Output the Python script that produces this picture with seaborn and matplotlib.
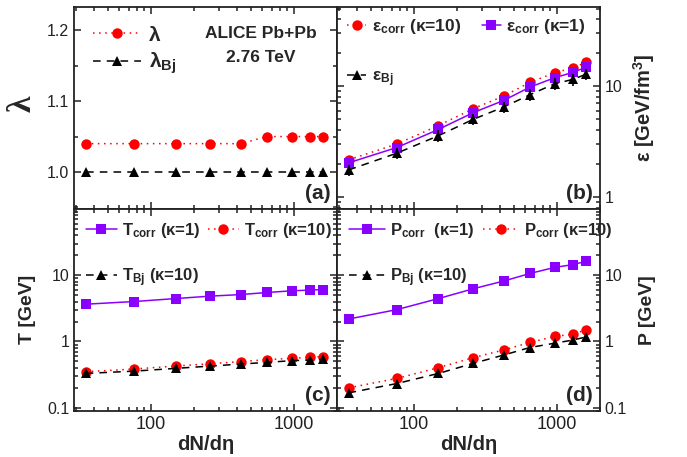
import matplotlib
matplotlib.use('Agg')
import matplotlib.pyplot as plt
import seaborn as sns
from matplotlib.ticker import MultipleLocator, NullFormatter

# centrality classes of ALICE Pb+Pb at 2.76 TeV
dndeta = [35, 76, 149, 261, 426, 649, 966, 1294, 1601]

lam = [1.04, 1.04, 1.04, 1.04, 1.04, 1.05, 1.05, 1.05, 1.05]
lam_bj = [1.0, 1.0, 1.0, 1.0, 1.0, 1.0, 1.0, 1.0, 1.0]

eps_k10 = [2.16, 3.0, 4.41, 6.27, 8.14, 10.8, 13.2, 14.6, 16.4]
eps_k1 = [2.03, 2.79, 4.07, 5.77, 7.43, 9.8, 11.9, 13.3, 14.8]
eps_bj = [1.75, 2.48, 3.57, 5.02, 6.48, 8.36, 10.5, 11.5, 12.8]

T_k1 = [3.65, 4.0, 4.44, 4.83, 5.1, 5.48, 5.81, 5.96, 6.08]
T_k10 = [0.35, 0.384, 0.426, 0.463, 0.497, 0.533, 0.557, 0.577, 0.592]
T_bj = [0.33, 0.357, 0.393, 0.426, 0.457, 0.484, 0.514, 0.525, 0.538]

P_k1 = [2.18, 3.02, 4.44, 6.24, 8.16, 10.6, 13.1, 14.4, 16.2]
P_k10 = [0.2, 0.277, 0.403, 0.571, 0.745, 0.966, 1.19, 1.29, 1.5]
P_bj = [0.168, 0.232, 0.33, 0.468, 0.625, 0.811, 0.942, 1.05, 1.17]

bj_err = 0.12  # relative size of the small error bars on the Bjorken points

RED = '#ff0000'
PURPLE = '#8a00ff'

sns.set_theme(style='ticks')
plt.rcParams['font.family'] = ['Liberation Sans', 'DejaVu Sans']
plt.rcParams['mathtext.fontset'] = 'custom'
plt.rcParams['mathtext.rm'] = 'Liberation Sans'
plt.rcParams['mathtext.bf'] = 'Liberation Sans:bold'
plt.rcParams['mathtext.default'] = 'bf'


def serie(ax, y, kind, err=False):
    if kind == 'red':
        sty = dict(color=RED, marker='o', linestyle=(0, (1, 3)), markersize=7.5)
    elif kind == 'purple':
        sty = dict(color=PURPLE, marker='s', linestyle='-', markersize=7)
    else:
        sty = dict(color='black', marker='^', linestyle=(0, (5, 4)), markersize=7.5)
    if err:
        ax.errorbar(dndeta, y, yerr=[bj_err * v for v in y], fmt='none',
                    ecolor='black', elinewidth=1.2, capsize=0)
    sns.lineplot(x=dndeta, y=y, ax=ax, linewidth=1.1, markeredgewidth=0, **sty)
    return ax.lines[-1]


fig, axs = plt.subplots(2, 2, sharex=True, figsize=(6.87, 4.57), dpi=100)
fig.subplots_adjust(left=0.1077, right=0.873, top=0.985, bottom=0.101,
                    wspace=0, hspace=0)
ax_a, ax_b = axs[0]
ax_c, ax_d = axs[1]

for ax in axs.flat:
    ax.set_xscale('log')
for ax in (ax_b, ax_c, ax_d):
    ax.set_yscale('log')

# (a) lambda
h1 = serie(ax_a, lam, 'red')
h2 = serie(ax_a, lam_bj, 'black')
ax_a.set_ylim(0.948, 1.233)
ax_a.yaxis.set_major_locator(MultipleLocator(0.1))
ax_a.yaxis.set_minor_locator(MultipleLocator(0.05))
ax_a.set_ylabel('λ', fontsize=24, fontweight='bold', family='Liberation Serif')
ax_a.yaxis.set_label_coords(-0.14, 0.52)
ax_a.legend([h1, h2], ['λ', 'λ$_{Bj}$'], loc='upper left', frameon=False,
            prop={'weight': 'bold', 'size': 15}, handlelength=2.3,
            handletextpad=0.4, labelspacing=0.3, borderaxespad=0.5)
ax_a.text(0.71, 0.87, 'ALICE Pb+Pb', transform=ax_a.transAxes, ha='center',
          va='center', fontsize=12.5, fontweight='bold')
ax_a.text(0.71, 0.75, '2.76 TeV', transform=ax_a.transAxes, ha='center',
          va='center', fontsize=12.5, fontweight='bold')

# (b) energy density
h1 = serie(ax_b, eps_k10, 'red')
h3 = serie(ax_b, eps_k1, 'purple')
h2 = serie(ax_b, eps_bj, 'black', err=True)
ax_b.set_ylim(0.78, 52)
ax_b.set_yticks([1, 10])
ax_b.set_yticklabels(['1', '10'])
ax_b.set_ylabel('ε [GeV/fm$^3$]', fontsize=14.5, fontweight='bold')
ax_b.legend([h1, h2, h3], ['ε$_{corr}$ (κ=10)', 'ε$_{Bj}$', 'ε$_{corr}$ (κ=1)'],
            loc='upper left', ncol=2, frameon=False,
            prop={'weight': 'bold', 'size': 12.5}, handlelength=1.1,
            handletextpad=0.3, labelspacing=1.9, columnspacing=1.2,
            borderaxespad=0.4, borderpad=0.2)

# (c) temperature
h1 = serie(ax_c, T_k1, 'purple')
h3 = serie(ax_c, T_k10, 'red')
h2 = serie(ax_c, T_bj, 'black', err=True)
ax_c.set_ylabel('T [GeV]', fontsize=14, fontweight='bold')
ax_c.yaxis.set_label_coords(-0.145, 0.5)
ax_c.legend([h1, h2, h3], ['T$_{corr}$ (κ=1)', 'T$_{Bj}$ (κ=10)', 'T$_{corr}$ (κ=10)'],
            loc='upper left', ncol=2, frameon=False,
            prop={'weight': 'bold', 'size': 12}, handlelength=1.9,
            handletextpad=0.3, labelspacing=1.6, columnspacing=0.4,
            borderaxespad=0.5, borderpad=0.2)

# (d) pressure
h1 = serie(ax_d, P_k1, 'purple')
h3 = serie(ax_d, P_k10, 'red')
h2 = serie(ax_d, P_bj, 'black', err=True)
ax_d.set_ylabel('P [GeV]', fontsize=14, fontweight='bold')
ax_d.legend([h1, h2, h3], ['P$_{corr}$  (κ=1)', 'P$_{Bj}$ (κ=10)', 'P$_{corr}$ (κ=10)'],
            loc='upper left', ncol=2, frameon=False,
            prop={'weight': 'bold', 'size': 12}, handlelength=2.2,
            handletextpad=0.3, labelspacing=1.6, columnspacing=0.5,
            borderaxespad=0.5, borderpad=0.2)

for ax in (ax_c, ax_d):
    ax.set_ylim(0.09, 100)
    ax.set_yticks([0.1, 1, 10])
    ax.set_yticklabels(['0.1', '1', '10'])

for ax in (ax_b, ax_d):
    ax.yaxis.set_label_position('right')
    ax.tick_params(labelleft=False, labelright=True)

for ax, tag in zip(axs.flat, ['(a)', '(b)', '(c)', '(d)']):
    ax.set_xlim(29, 2000)
    ax.set_xticks([100, 1000])
    ax.set_xticklabels(['100', '1000'])
    ax.xaxis.set_minor_formatter(NullFormatter())
    ax.yaxis.set_minor_formatter(NullFormatter())
    ax.tick_params(which='both', direction='in', top=True, right=True,
                   left=True, bottom=True, width=1.1, colors='#222222')
    ax.tick_params(which='major', length=5)
    ax.tick_params(which='minor', length=2.8)
    ax.tick_params(axis='x', labelsize=13)
    ax.tick_params(axis='y', labelsize=11.5)
    for sp in ax.spines.values():
        sp.set_linewidth(1.3)
        sp.set_color('#222222')
    ax.text(0.975, 0.03, tag, transform=ax.transAxes, ha='right', va='bottom',
            fontsize=15, fontweight='bold')

for ax in (ax_c, ax_d):
    ax.set_xlabel('dN/dη', fontsize=14.5, fontweight='bold', labelpad=2)

ax_b.yaxis.set_label_coords(1.12, 0.5)
ax_d.yaxis.set_label_coords(1.15, 0.5)

fig.savefig('out.png', dpi=100)
